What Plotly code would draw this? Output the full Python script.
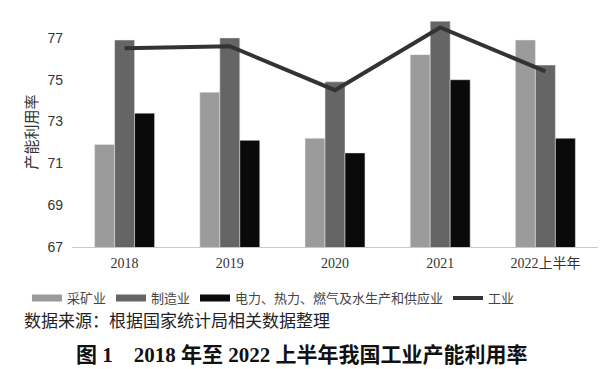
import plotly.graph_objects as go

categories = ["2018", "2019", "2020", "2021", "2022上半年"]
mining = [71.9, 74.4, 72.2, 76.2, 76.9]
manufacturing = [76.9, 77.0, 74.9, 77.8, 75.7]
power = [73.4, 72.1, 71.5, 75.0, 72.2]
industry = [76.5, 76.6, 74.5, 77.5, 75.4]
y_ticks = [67, 69, 71, 73, 75, 77]

series_names = ["采矿业", "制造业", "电力、热力、燃气及水生产和供应业"]
series_colors = ["#9b9b9b", "#656565", "#0a0a0a"]

cjk = "Liberation Serif, Noto Sans CJK SC"
sans = "Liberation Sans, Noto Sans CJK SC"

fig = go.Figure()
for vals, name, col in zip([mining, manufacturing, power], series_names, series_colors):
    fig.add_bar(x=categories, y=vals, name=name, marker_color=col,
                showlegend=False, legendgroup=name)
# legend-only entries with wide rectangular swatches
for name, col in zip(series_names, series_colors):
    fig.add_scatter(x=[categories[0]], y=[None], name=name, mode="lines",
                    line=dict(color=col, width=7), legendgroup=name)
fig.add_scatter(x=categories, y=industry, name="工业", mode="lines",
                line=dict(color="#333333", width=4))

fig.update_layout(
    width=600, height=369,
    margin=dict(l=72, r=2, t=17, b=122, autoexpand=False),
    plot_bgcolor="white", paper_bgcolor="white",
    barmode="group", bargap=0.43, bargroupgap=0,
    showlegend=True,
    legend=dict(orientation="h", x=0.383, xanchor="center", y=-0.222, yanchor="middle",
                font=dict(family=sans, size=13, color="#444444"),
                itemwidth=30, traceorder="normal"),
    xaxis=dict(showgrid=False, showline=True, linecolor="#c8c8c8", linewidth=1,
               automargin=False, ticklabelstandoff=3,
               ticks="", tickfont=dict(family=cjk, size=14, color="#333333")),
    yaxis=dict(range=[67, 78], tickvals=y_ticks, showgrid=False, zeroline=False,
               automargin=False,
               showline=False, ticks="", ticklabelstandoff=8,
               tickfont=dict(family=sans, size=14, color="#333333"),
               title=dict(text="产能利用率", font=dict(family=sans, size=15, color="#333333"),
                          standoff=6)),
    annotations=[
        dict(text="数据来源：根据国家统计局相关数据整理", xref="paper", yref="paper",
             x=-0.095, y=-0.326, xanchor="left", yanchor="middle", showarrow=False,
             font=dict(family=cjk, size=17, color="#222222")),
        dict(text="<b>图 1　2018 年至 2022 上半年我国工业产能利用率</b>", xref="paper", yref="paper",
             x=0.437, y=-0.468, xanchor="center", yanchor="middle", showarrow=False,
             font=dict(family=cjk, size=21, color="#111111")),
    ],
)

fig.write_html("out.html", config={"displayModeBar": False},
               post_script="document.body.style.margin='0';")
